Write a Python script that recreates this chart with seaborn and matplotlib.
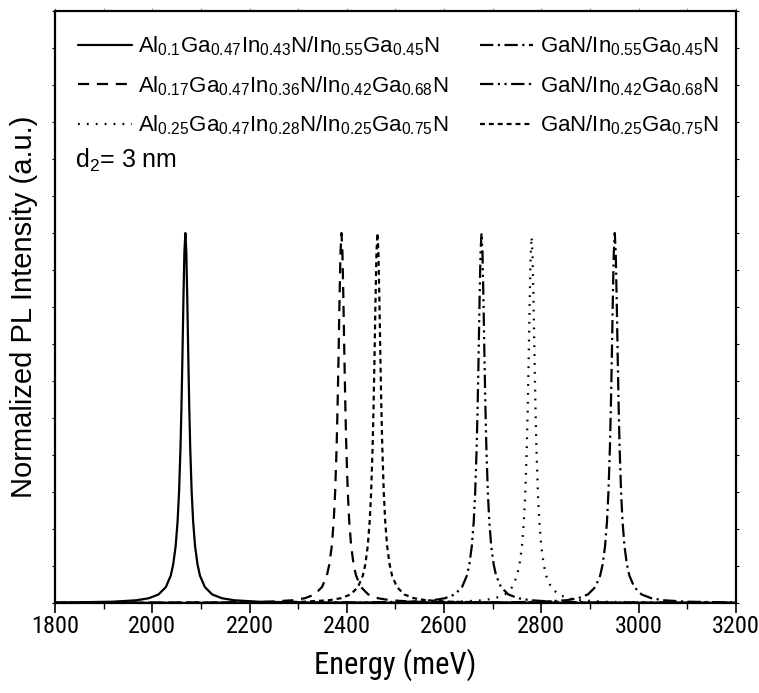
import numpy as np
import pandas as pd
import matplotlib
matplotlib.use("Agg")
import matplotlib.pyplot as plt
import seaborn as sns
from matplotlib.ticker import MultipleLocator
from matplotlib import font_manager

sns.set_theme(style="ticks")
plt.rcParams['font.family'] = ['Liberation Sans', 'DejaVu Sans']
plt.rcParams['mathtext.fontset'] = 'custom'
plt.rcParams['mathtext.rm'] = 'Liberation Sans'
plt.rcParams['mathtext.it'] = 'Liberation Sans'
plt.rcParams['mathtext.bf'] = 'Liberation Sans'
for k in ['text.color', 'axes.labelcolor', 'xtick.color', 'ytick.color', 'axes.edgecolor']:
    plt.rcParams[k] = 'black'

# ---- data ----
labels = [
    r'Al$_{0.1}$Ga$_{0.47}$In$_{0.43}$N/In$_{0.55}$Ga$_{0.45}$N',
    r'Al$_{0.17}$Ga$_{0.47}$In$_{0.36}$N/In$_{0.42}$Ga$_{0.68}$N',
    r'Al$_{0.25}$Ga$_{0.47}$In$_{0.28}$N/In$_{0.25}$Ga$_{0.75}$N',
    r'GaN/In$_{0.55}$Ga$_{0.45}$N',
    r'GaN/In$_{0.42}$Ga$_{0.68}$N',
    r'GaN/In$_{0.25}$Ga$_{0.75}$N',
]
peak_energy = [2068, 2389, 2780, 2951, 2677, 2463]   # meV
peak_height = [1.0, 1.0, 0.99, 1.0, 1.0, 1.0]
# line shape read from the peaks: offset from peak (meV) and normalized intensity
profile_offset = [-1300, -500, -250, -150, -100, -75, -55, -40, -30, -25, -20, -16, -13, -10, -8, -6, -4, -2,
                  0, 2, 4, 6, 8, 10, 13, 16, 20, 25, 30, 40, 55, 75, 100, 150, 250, 500, 1300]
profile_value = [0.00004, 0.0003, 0.0012, 0.0032, 0.0072, 0.0127, 0.023, 0.043, 0.074, 0.104, 0.153, 0.220,
                 0.299, 0.419, 0.530, 0.667, 0.819, 0.947,
                 1.0, 0.947, 0.819, 0.667, 0.530, 0.419, 0.299, 0.220, 0.153, 0.104, 0.074, 0.043, 0.023,
                 0.0127, 0.0072, 0.0032, 0.0012, 0.0003, 0.00004]
xticks = [1800, 2000, 2200, 2400, 2600, 2800, 3000, 3200]

linestyles = [
    '-',
    (0, (5, 3.5)),
    (0, (0.8, 3.2)),
    (0, (6, 2, 1, 2)),
    (0, (6, 2, 1, 2, 1, 2)),
    (0, (2.2, 1.8)),
]

rows = []
for lab, e0, h in zip(labels, peak_energy, peak_height):
    for off, v in zip(profile_offset, profile_value):
        rows.append({'series': lab, 'Energy': e0 + off, 'Intensity': h * v})
df = pd.DataFrame(rows)

names = {f.name for f in font_manager.fontManager.ttflist}
narrow = None
for cand in ['Liberation Sans Narrow', 'Arial Narrow', 'Roboto Condensed', 'Open Sans Condensed']:
    if cand in names:
        narrow = cand
        break

fig = plt.figure(figsize=(7.59, 6.93), dpi=100)
ax = fig.add_axes([0.0725, 0.130, 0.897, 0.854])

for lab, ls in zip(labels, linestyles):
    sub = df[df['series'] == lab]
    sns.lineplot(data=sub, x='Energy', y='Intensity', ax=ax, color='black',
                 linewidth=1.6, linestyle=ls, label=lab, estimator=None, sort=False)

ax.set_xlim(1800, 3200)
ax.set_ylim(0, 1.6)
ax.set_xticks(xticks)
ax.xaxis.set_minor_locator(MultipleLocator(100))
ax.yaxis.set_major_locator(MultipleLocator(0.1))
ax.set_yticklabels([])
ax.tick_params(axis='x', which='major', direction='out', length=7, width=1.2,
               labelsize=(17.5 if narrow else 15), pad=1.5, colors='black')
ax.tick_params(axis='x', which='minor', direction='out', length=4, width=1.0)
ax.tick_params(axis='y', which='major', direction='out', length=2.5, width=0.8,
               left=True, right=True)
if narrow:
    for lbl in ax.get_xticklabels():
        lbl.set_fontfamily(narrow)

top = ax.secondary_xaxis('top')
top.set_xticks(np.arange(1800, 3201, 100))
top.tick_params(direction='out', length=2, width=0.6, labeltop=False, colors='#888888')
top.spines['top'].set_visible(False)

for s in ax.spines.values():
    s.set_linewidth(1.6)
    s.set_color('black')

if narrow:
    ax.set_xlabel('Energy (meV)', fontsize=22, family=narrow, labelpad=8)
else:
    ax.set_xlabel('Energy (meV)', fontsize=18, labelpad=8)
ax.set_ylabel('Normalized PL Intensity (a.u.)', fontsize=21, labelpad=6)

leg = ax.legend(loc='upper left', bbox_to_anchor=(0.0, 1.0), ncol=2, frameon=False,
                fontsize=16, handlelength=2.4, handletextpad=0.3, columnspacing=1.4,
                labelspacing=0.72, borderaxespad=0.65, borderpad=0.4)

ax.text(0.029, 0.748, r'd$_2$= 3 nm', transform=ax.transAxes, fontsize=18,
        va='center', ha='left')

fig.savefig('out.png', dpi=100)
